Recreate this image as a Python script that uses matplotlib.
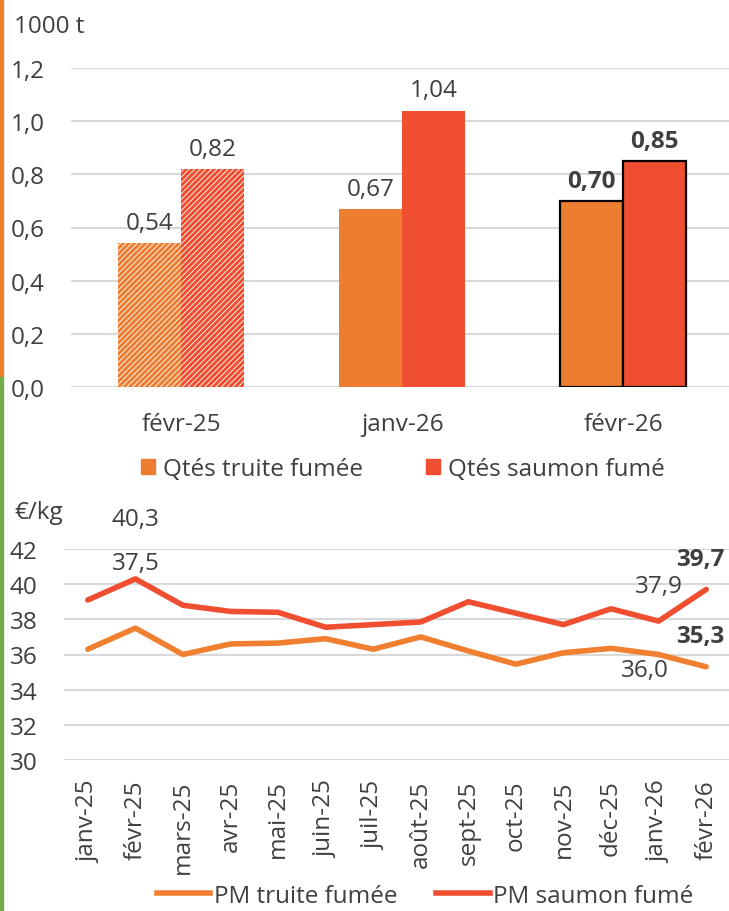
import numpy as np
import matplotlib.pyplot as plt
from matplotlib.patches import Patch, Rectangle
from matplotlib.lines import Line2D

# --- data ---
bar_months = ["févr-25", "janv-26", "févr-26"]
qte_truite = [0.54, 0.67, 0.70]
qte_saumon = [0.82, 1.04, 0.85]

months = ["janv-25", "févr-25", "mars-25", "avr-25", "mai-25", "juin-25", "juil-25",
          "août-25", "sept-25", "oct-25", "nov-25", "déc-25", "janv-26", "févr-26"]
pm_truite = [36.3, 37.5, 36.0, 36.6, 36.65, 36.9, 36.3, 37.0, 36.2, 35.45, 36.1, 36.35, 36.0, 35.3]
pm_saumon = [39.1, 40.3, 38.8, 38.45, 38.4, 37.55, 37.7, 37.85, 39.0, 38.35, 37.7, 38.6, 37.9, 39.7]

ORANGE = "#ED7D31"
RED = "#F04E30"
TXT = "#3f3f3f"
GRID = "#d9d9d9"
FS = 17.5

plt.rcParams['font.family'] = ['Open Sans', 'DejaVu Sans']
plt.rcParams['hatch.linewidth'] = 2.2

W, H = 729, 912
fig = plt.figure(figsize=(W / 100, H / 100), dpi=100)

# left edge stripe
fig.patches.append(Rectangle((0, 1 - 378 / H), 3 / W, 378 / H, transform=fig.transFigure,
                             color="#F08030", zorder=0))
fig.patches.append(Rectangle((0, 0), 3 / W, 1 - 378 / H, transform=fig.transFigure,
                             color="#70AD47", zorder=0))

# ---------- top: quantities ----------
ax1 = fig.add_axes([71 / W, 1 - 388 / H, 658 / W, 319 / H])
x = np.arange(len(bar_months))
bw = 0.285
for i in range(len(bar_months)):
    for k, (vals, col) in enumerate([(qte_truite, ORANGE), (qte_saumon, RED)]):
        xi = x[i] + (k - 0.5) * bw
        if i == 0:
            ax1.bar(xi, vals[i], bw, facecolor="white", edgecolor=col, hatch="//////",
                    linewidth=0, zorder=3)
        elif i == len(bar_months) - 1:
            ax1.bar(xi, vals[i], bw, color=col, edgecolor="black", linewidth=1.6, zorder=3)
        else:
            ax1.bar(xi, vals[i], bw, color=col, linewidth=0, zorder=3)
        bold = i == len(bar_months) - 1
        ax1.annotate(f"{vals[i]:.2f}".replace(".", ","), (xi, vals[i]),
                     xytext=(0, 6), textcoords="offset points", ha="center", va="bottom",
                     fontsize=FS, color=TXT, fontweight="bold" if bold else "normal")

ax1.set_xlim(-0.5, 2.48)
ax1.set_ylim(0, 1.2)
ax1.set_yticks(np.arange(0, 1.21, 0.2))
ax1.set_yticklabels([f"{v:.1f}".replace(".", ",") for v in np.arange(0, 1.21, 0.2)])
ax1.set_xticks(x)
ax1.set_xticklabels(bar_months)
ax1.tick_params(axis="both", length=0, labelsize=FS, labelcolor=TXT)
ax1.tick_params(axis="y", pad=19)
ax1.tick_params(axis="x", pad=18)
ax1.grid(axis="y", color=GRID, linewidth=1.5, zorder=0)
ax1.set_axisbelow(True)
for s in ax1.spines.values():
    s.set_visible(False)
fig.text(14 / W, 1 - 27 / H, "1000 t", fontsize=FS, color=TXT, va="center", ha="left")

fig.legend(handles=[Patch(color=ORANGE, label="Qtés truite fumée"),
                    Patch(color=RED, label="Qtés saumon fumé")],
           loc="center", bbox_to_anchor=(403 / W, 1 - 470 / H), ncol=2, frameon=False,
           fontsize=FS, labelcolor=TXT, handlelength=0.55, handleheight=0.55,
           handletextpad=0.35, columnspacing=2.6)

# ---------- bottom: prices ----------
ax2 = fig.add_axes([64 / W, 1 - 761 / H, 665 / W, 211 / H])
xm = np.arange(len(months))
ax2.plot(xm, pm_truite, color="#F08030", linewidth=4.0, solid_capstyle="round",
         solid_joinstyle="round", zorder=3)
ax2.plot(xm, pm_saumon, color=RED, linewidth=4.0, solid_capstyle="round",
         solid_joinstyle="round", zorder=3)
ax2.set_xlim(-0.5, 13.48)
ax2.set_ylim(30, 42)
ax2.set_yticks(np.arange(30, 43, 2))
ax2.set_xticks(xm)
ax2.set_xticklabels(months, rotation=90)
ax2.tick_params(axis="both", length=0, labelsize=FS, labelcolor=TXT)
ax2.tick_params(axis="y", pad=19)
ax2.tick_params(axis="x", pad=14)
ax2.grid(axis="y", color=GRID, linewidth=1.5, zorder=0)
ax2.set_axisbelow(True)
for s in ax2.spines.values():
    s.set_visible(False)
fig.text(14 / W, 1 - 513 / H, "€/kg", fontsize=FS, color=TXT, va="center", ha="left")

def lab(series, i, dx, dy, bold=False):
    ax2.annotate(f"{series[i]:.1f}".replace(".", ","), (xm[i], series[i]),
                 xytext=(dx, dy), textcoords="offset points", ha="center", va="center",
                 fontsize=FS, color=TXT, fontweight="bold" if bold else "normal")

lab(pm_saumon, 1, 0, 43)
lab(pm_truite, 1, 0, 47)
lab(pm_saumon, 12, 0, 25)
lab(pm_truite, 12, -10, -11)
lab(pm_saumon, 13, -4, 22, bold=True)
lab(pm_truite, 13, -4, 22, bold=True)

fig.legend(handles=[Line2D([], [], color="#F08030", linewidth=4.0, label="PM truite fumée"),
                    Line2D([], [], color=RED, linewidth=4.0, label="PM saumon fumé")],
           loc="center", bbox_to_anchor=(425 / W, 1 - 897 / H), ncol=2, frameon=False,
           fontsize=FS, labelcolor=TXT, handlelength=2.2, handletextpad=0.15,
           columnspacing=1.6)

fig.savefig("out.png", dpi=100, facecolor="white")
